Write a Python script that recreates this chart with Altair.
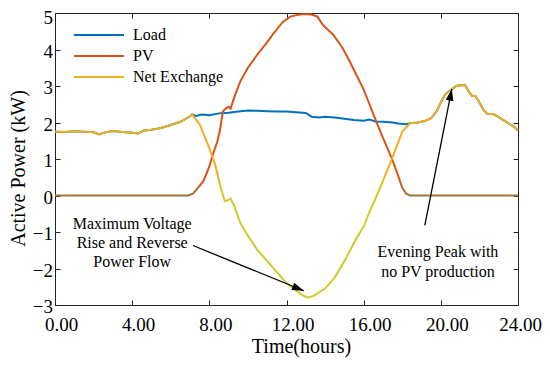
import altair as alt
import pandas as pd

# ---------------- data ----------------
series_names = ["Load", "PV", "Net Exchange"]
series_colors = ["#0072BD", "#D95319", "#EDB120"]

load_t = [0.0, 0.5, 1.0, 1.5, 2.0, 2.3, 2.6, 3.0, 3.5, 4.0, 4.3, 4.6, 5.0, 5.5, 6.0, 6.5, 7.0, 7.1,
          7.3, 7.6, 8.0, 8.5, 9.0, 9.5, 10.0, 10.5, 11.0, 11.5, 12.0, 12.5, 13.0, 13.3, 13.7, 14.0,
          14.5, 15.0, 15.5, 16.0, 16.3, 16.6, 17.0, 17.5, 17.8, 18.2, 18.4,
          18.8, 19.2, 19.5, 19.8, 20.0, 20.2, 20.4, 20.6, 20.8, 21.0, 21.25, 21.45, 21.6, 21.8,
          22.0, 22.2, 22.4, 22.7, 22.9, 23.2, 23.5, 23.8, 24.0]
load_v = [1.75, 1.74, 1.76, 1.75, 1.73, 1.67, 1.73, 1.77, 1.74, 1.72, 1.70, 1.78, 1.80, 1.85, 1.93, 2.02, 2.17, 2.22,
          2.18, 2.22, 2.20, 2.25, 2.27, 2.30, 2.33, 2.32, 2.31, 2.30, 2.30, 2.28, 2.26, 2.16, 2.14, 2.16,
          2.14, 2.10, 2.07, 2.05, 2.08, 2.03, 2.02, 2.00, 1.97, 1.95, 1.98,
          2.00, 2.05, 2.12, 2.32, 2.55, 2.75, 2.85, 2.92, 3.00, 3.02, 3.03, 2.85, 2.74, 2.72,
          2.55, 2.35, 2.24, 2.23, 2.18, 2.08, 1.98, 1.88, 1.78]

pv_t = [0.0, 6.9, 7.15, 7.4, 7.7, 8.0, 8.2, 8.4, 8.55, 8.7, 8.85, 9.0, 9.1, 9.3, 9.6, 10.0, 10.5,
        11.0, 11.3, 11.8, 12.2, 12.6, 13.0, 13.3, 13.6, 13.9, 14.4, 14.9, 15.3, 15.6, 16.0, 16.3,
        16.6, 17.0, 17.5, 18.0, 18.2, 18.4, 24.0]
pv_v = [0.0, 0.0, 0.05, 0.20, 0.40, 0.80, 1.15, 1.45, 1.78, 2.30, 2.38, 2.43, 2.38, 2.70, 3.12, 3.50, 3.87,
        4.20, 4.42, 4.75, 4.90, 4.95, 4.97, 4.96, 4.90, 4.66, 4.42, 4.05, 3.65, 3.33, 2.90, 2.50,
        2.10, 1.58, 0.96, 0.22, 0.05, 0.0, 0.0]

net_t = [0.0, 0.5, 1.0, 1.5, 2.0, 2.3, 2.6, 3.0, 3.5, 4.0, 4.3, 4.6, 5.0, 5.5, 6.0, 6.5, 7.0, 7.1,
         7.5, 8.0, 8.3, 8.6, 8.8, 9.0, 9.1, 9.3, 9.6, 10.0, 10.5, 11.0, 11.5, 12.0, 12.5, 12.8, 13.1,
         13.4, 13.7, 14.0, 14.5, 15.0, 15.3, 15.6, 16.0, 16.3, 16.6, 17.0, 17.5, 18.0, 18.4,
         18.8, 19.2, 19.5, 19.8, 20.0, 20.2, 20.4, 20.6, 20.8, 21.0, 21.25, 21.45, 21.6, 21.8,
         22.0, 22.2, 22.4, 22.7, 22.9, 23.2, 23.5, 23.8, 24.0]
net_v = [1.75, 1.74, 1.76, 1.75, 1.73, 1.67, 1.73, 1.77, 1.74, 1.72, 1.70, 1.78, 1.80, 1.85, 1.93, 2.02, 2.17, 2.22,
         1.95, 1.30, 0.85, 0.20, -0.15, -0.12, -0.08, -0.30, -0.75, -1.10, -1.50, -1.80, -2.10, -2.40, -2.60, -2.72, -2.80,
         -2.75, -2.65, -2.55, -2.25, -1.80, -1.50, -1.20, -0.85, -0.45, -0.10, 0.40, 1.05, 1.75, 1.98,
         2.00, 2.05, 2.12, 2.32, 2.55, 2.75, 2.85, 2.92, 3.00, 3.02, 3.03, 2.85, 2.74, 2.72,
         2.55, 2.35, 2.24, 2.23, 2.18, 2.08, 1.98, 1.88, 1.78]

x_ticks = [0, 4, 8, 12, 16, 20, 24]
y_ticks = [-3, -2, -1, 0, 1, 2, 3, 4, 5]

ann_text = ["Maximum Voltage", "Rise and Reverse", "Power Flow", "Evening Peak with", "no PV production"]
ann_x = [4.0, 4.0, 4.0, 19.85, 19.85]
ann_y = [-0.79, -1.31, -1.83, -1.56, -2.10]

arrow_x = [7.15, 19.17]
arrow_y = [-1.37, -0.82]
arrow_x2 = [12.9, 20.57]
arrow_y2 = [-2.61, 2.92]
arrow_angle = [112, 11]

# ---------------- tables ----------------
load_df = pd.DataFrame({"hour": load_t, "kw": load_v, "series": "Load"})
pv_df = pd.DataFrame({"hour": pv_t, "kw": pv_v, "series": "PV"})
net_df = pd.DataFrame({"hour": net_t, "kw": net_v, "series": "Net Exchange"})
ann_df = pd.DataFrame({"hour": ann_x, "kw": ann_y, "text": ann_text})
arr_df = pd.DataFrame({"x": arrow_x, "y": arrow_y, "x2": arrow_x2, "y2": arrow_y2, "angle": arrow_angle})

FONT = "Liberation Serif"
xs = alt.Scale(domain=[0, 24], nice=False, zero=False)
ys = alt.Scale(domain=[-3, 5], nice=False, zero=False)

color = alt.Color(
    "series:N",
    scale=alt.Scale(domain=series_names, range=series_colors),
    legend=alt.Legend(
        title=None, orient="none", legendX=18, legendY=11.5, symbolType="stroke",
        symbolSize=2500, symbolStrokeWidth=2, labelFont=FONT, labelFontSize=16,
        labelOffset=8, rowPadding=0, clipHeight=21, padding=0, labelColor="black", offset=0,
    ),
)

load_layer = alt.Chart(load_df).mark_line(strokeWidth=2).encode(
    x=alt.X("hour:Q", scale=xs, axis=alt.Axis(
        orient="bottom", values=x_ticks, format=".2f", offset=-5, tickSize=5, domain=False,
        grid=False, labelPadding=10, labelFlush=False,
        labelOffset={"condition": {"test": "datum.value === 24", "value": 2}, "value": 6},
        title="Time(hours)", titleX=246, titleY=52.5,
        titleBaseline="alphabetic", titleAlign="center")),
    y=alt.Y("kw:Q", scale=ys, axis=alt.Axis(
        orient="left", values=y_ticks, format="d", offset=-5, tickSize=5, domain=False,
        grid=False, labelPadding=2.5,
        labelOffset={"condition": {"test": "datum.value === 5", "value": 4.5}, "value": 1.5},
        title="Active Power (kW)", titleX=-36,
        titleY=155, titleBaseline="alphabetic", titleAlign="center", titleAngle=270)),
    color=color,
)

tick_axis_x = alt.Axis(orient="top", values=x_ticks, labels=False, offset=-5, tickSize=5,
                       domain=False, grid=False, title=None)
tick_axis_y = alt.Axis(orient="right", values=y_ticks, labels=False, offset=-5, tickSize=5,
                       domain=False, grid=False, title=None)

pv_grad = alt.Gradient(
    gradient="linear", x1=0, y1=0, x2=0, y2=1,
    stops=[alt.GradientStop(offset=0, color="#D95319"),
           alt.GradientStop(offset=0.92, color="#D95319"),
           alt.GradientStop(offset=0.995, color="#A0743A"),
           alt.GradientStop(offset=1, color="#A0743A")],
)
net_grad = alt.Gradient(
    gradient="linear", x1=0, y1=0, x2=0, y2=1,
    stops=[alt.GradientStop(offset=0, color="#EDB120"),
           alt.GradientStop(offset=0.42, color="#EDB120"),
           alt.GradientStop(offset=0.53, color="#CFCB2A"),
           alt.GradientStop(offset=1, color="#CFCB2A")],
)

pv_layer = alt.Chart(pv_df).mark_line(strokeWidth=2, stroke=pv_grad).encode(
    x=alt.X("hour:Q", scale=xs, axis=tick_axis_x),
    y=alt.Y("kw:Q", scale=ys, axis=tick_axis_y),
)

net_layer = alt.Chart(net_df).mark_line(strokeWidth=2, stroke=net_grad).encode(
    x=alt.X("hour:Q", scale=xs, axis=None),
    y=alt.Y("kw:Q", scale=ys, axis=None),
)

text_layer = alt.Chart(ann_df).mark_text(
    font=FONT, fontSize=16, align="center", baseline="middle", color="black"
).encode(
    x=alt.X("hour:Q", scale=xs, axis=None),
    y=alt.Y("kw:Q", scale=ys, axis=None),
    text="text:N",
)

arrow_rules = alt.Chart(arr_df).mark_rule(color="black", strokeWidth=1.3).encode(
    x=alt.X("x:Q", scale=xs, axis=None),
    y=alt.Y("y:Q", scale=ys, axis=None),
    x2="x2:Q",
    y2="y2:Q",
)

arrow_heads = alt.Chart(arr_df).mark_point(
    shape="M0,0L-0.55,1.7L0.55,1.7Z", filled=True, size=196, color="black", opacity=1, strokeWidth=0
).encode(
    x=alt.X("x2:Q", scale=xs, axis=None),
    y=alt.Y("y2:Q", scale=ys, axis=None),
    angle=alt.Angle("angle:Q", scale=None),
)

chart = alt.layer(
    load_layer, pv_layer, net_layer, arrow_rules, arrow_heads, text_layer
).resolve_axis(x="independent", y="independent").properties(
    width=463, height=292,
    background="white",
    autosize=alt.AutoSizeParams(type="none"),
    padding={"left": 47, "top": 5, "right": 24, "bottom": 53},
).configure_view(
    stroke="#222222", strokeWidth=1
).configure_axis(
    labelFont=FONT, labelFontSize=19, labelColor="black", titleFont=FONT, titleFontSize=20,
    titleColor="black", titleFontWeight="normal", tickColor="#222222", tickWidth=1,
)

chart.save("out.html", embed_options={"renderer": "svg", "actions": False})
